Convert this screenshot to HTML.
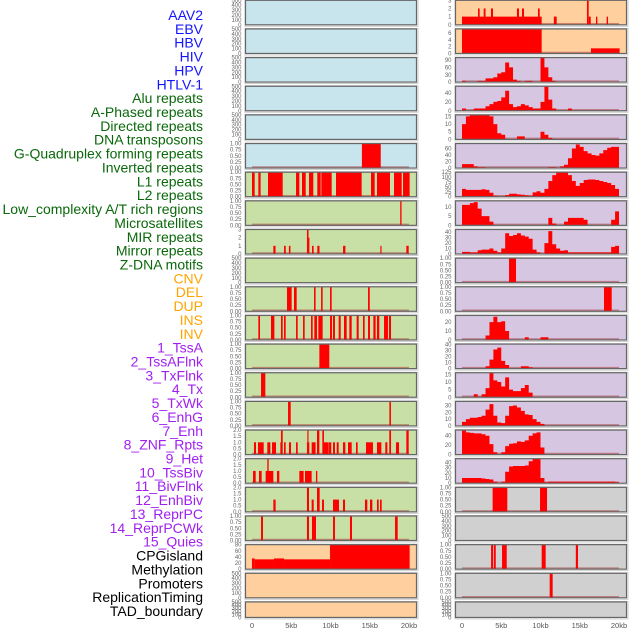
<!DOCTYPE html>
<html><head><meta charset="utf-8"><style>
html,body{margin:0;padding:0;background:#fff;}
svg{display:block;}
.lab{font-family:"Liberation Sans",sans-serif;font-size:14px;}
.tk{font-family:"Liberation Sans",sans-serif;font-size:6px;fill:#666;}
.xt{font-family:"Liberation Sans",sans-serif;font-size:7.5px;fill:#555;}
</style></head><body>
<svg id="chart" width="630" height="630" viewBox="0 0 630 630" xmlns="http://www.w3.org/2000/svg"></svg>
<script>
// ---- labels ----
const trackLabels = ["AAV2","EBV","HBV","HIV","HPV","HTLV-1","Alu repeats","A-Phased repeats","Directed repeats","DNA transposons","G-Quadruplex forming repeats","Inverted repeats","L1 repeats","L2 repeats","Low_complexity A/T rich regions","Microsatellites","MIR repeats","Mirror repeats","Z-DNA motifs","CNV","DEL","DUP","INS","INV","1_TssA","2_TssAFlnk","3_TxFlnk","4_Tx","5_TxWk","6_EnhG","7_Enh","8_ZNF_Rpts","9_Het","10_TssBiv","11_BivFlnk","12_EnhBiv","13_ReprPC","14_ReprPCWk","15_Quies","CPGisland","Methylation","Promoters","ReplicationTiming","TAD_boundary"];
const xTickValues = [0,5,10,15,20];
const xTickLabels = ["0","5kb","10kb","15kb","20kb"];
// ---- tick sets ----
const ticks500 = [0,100,200,300,400,500];
const ticks1 = [0,0.25,0.5,0.75,1];
const ticks3 = [0,1,2,3];
const ticks2 = [0,0.5,1,1.5,2];
// ---- interval data [startKb, endKb, value] ----
const L5 = [[14.0,16.4,1]];
const L6 = [[0,0.34,1],[0.81,1.1,1],[2.04,3.91,1],[5.61,6.03,1],[6.37,6.84,1],[7.26,7.81,1],[8.32,8.75,1],[8.83,10.15,1],[10.7,13.97,1],[15.16,15.63,1],[15.92,17.58,1],[18.09,19.07,1],[19.24,20.08,1]];
const L7 = [[18.88,19.05,1]];
const L8 = [[2.72,3.0,1],[4.08,4.3,1],[4.7,4.9,1],[7.0,7.2,3],[7.2,7.3,2],[7.64,7.85,1],[8.32,8.6,1],[11.6,11.9,1],[16.35,16.5,1],[19.66,19.96,1]];
const L10 = [[4.46,5.05,1],[5.35,5.69,1],[7.9,8.1,1],[8.8,9.0,1],[9.94,10.15,1],[14.78,15.0,1]];
const L11 = [[0.81,1.02,1],[2.42,2.85,1],[3.69,3.91,1],[4.08,4.29,1],[5.61,5.82,1],[6.5,6.71,1],[7.52,7.73,1],[7.94,8.28,1],[8.45,9.0,1],[9.94,10.19,1],[10.32,10.57,1],[11.04,11.3,1],[11.72,12.06,1],[12.4,12.7,1],[13.33,13.59,1],[14.14,14.35,1],[14.78,15.03,1],[15.46,15.75,1],[15.92,16.22,1],[16.82,17.32,1],[17.45,17.71,1]];
const L12 = [[8.58,9.85,1]];
const L13 = [[1.15,1.7,1]];
const L14 = [[4.59,4.93,1],[17.5,17.7,1]];
const L15 = [[0.25,0.51,1],[0.76,1.49,1],[1.95,2.34,1],[2.55,3.06,1],[3.61,3.69,1],[3.69,3.91,2],[4.08,4.29,1],[4.71,4.97,1],[5.61,5.82,1],[7.0,7.3,1],[7.05,7.2,2],[7.6,8.1,1],[8.28,8.58,2],[8.96,9.17,2],[9.13,9.77,1],[9.81,10.1,1],[10.32,10.57,1],[10.79,11.04,1],[11.59,11.89,1],[12.23,12.7,1],[13.25,13.46,1],[14.52,15.41,1],[15.92,16.48,1],[16.98,17.24,1],[17.49,17.71,2],[18.34,18.73,1],[19.66,19.96,2]];
const L16 = [[0.13,0.47,1],[0.89,1.23,1],[1.74,2.72,1],[1.95,2.12,2],[3.18,3.48,1],[6.03,6.58,1],[6.75,7.6,1],[8.15,8.32,1]];
const L17 = [[2.72,3.01,1],[7.0,7.26,2],[7.6,7.86,1],[8.28,8.62,2],[8.92,9.17,1],[10.32,11.08,1],[11.59,11.85,1],[14.39,14.69,1],[15.03,15.33,1],[15.92,16.14,1],[16.31,16.52,1]];
const L18 = [[1.15,1.4,1],[7.0,7.26,1],[7.64,8.15,1],[10.32,10.57,1],[12.48,12.74,1],[18.22,18.56,1]];
const L19 = [[0,0.34,35],[0.34,2.8,32],[2.8,4.08,35],[4.08,9.94,32],[9.94,20.08,80]];
const R0 = [[0,10.15,1],[2.04,2.25,2],[2.76,3.0,2],[3.69,3.95,2],[7.0,7.26,2],[7.64,7.9,2],[9.68,9.9,2],[11.7,12.06,1],[15.92,16.14,3],[16.14,16.4,1],[17.07,17.24,1],[18.43,18.6,1]];
const R1 = [[0,10.15,7.2],[16.43,20.08,1.5]];
const R9 = [[5.99,6.88,1]];
const R10 = [[18.09,19.07,1]];
const R17 = [[3.9,5.77,1],[9.94,10.83,1]];
const R19 = [[3.7,3.95,1],[4.05,4.3,1],[5.1,5.7,1],[10.15,10.66,1],[14.5,14.78,1]];
const R20 = [[11.17,11.55,1]];
// ---- binned coverage (0.5 kb bins, 0-20 kb) ----
const R2 = [5,0,0,0,5,5,15,15,20,35,40,80,60,10,5,0,5,5,0,0,100,60,20,5,0,0,0,0,0,0,0,0,0,0,0,0,0,0,0,0];
const R3 = [5,0,0,5,5,5,10,15,20,22,30,45,15,8,10,15,12,8,5,5,20,55,25,5,0,0,0,5,0,0,0,0,0,0,0,0,0,0,0,0];
const R4 = [10,15,16,16,16,16,16,15,10,4,3,0,0,0,2,2,0,0,0,0,5,3,1,0,0,0,0,0,0,0,0,0,0,0,0,0,0,0,0,0];
const R5 = [12,12,12,5,3,3,0,0,0,0,0,0,0,0,0,0,0,0,0,0,0,0,3,3,0,5,10,30,60,72,65,52,45,40,38,45,55,62,65,65];
const R6 = [40,35,35,35,35,38,35,20,5,0,3,8,15,15,12,10,7,5,22,28,20,40,80,110,125,125,125,110,80,55,70,85,88,88,85,80,75,70,60,40];
const R7 = [11,11,12,12.5,9,5,5,2,0,0,0,0,0,0,0,0,0,0,0,0,0,0,4,1,0,0,2,4,4,4,4,3,0,0,0,0,0,0,3,7.5];
const R8 = [4,4,3,3,7,8,8,10,6,3,10,38,33,35,38,34,32,28,8,3,1,20,42,18,10,6,7,3,3,3,3,3,3,3,3,3,3,3,13,15];
const R11 = [0,0,0,0,0,0,5,20,26,20,21,10,0,0,0,0,3,0,0,0,3,3,0,0,0,0,0,0,0,0,0,0,0,0,0,0,0,0,0,0];
const R12 = [0,0,0,0,0,0,4,15,32,35,13,6,0,0,0,4,4,2,0,0,0,0,0,0,0,0,0,0,0,0,0,0,0,0,0,0,0,0,0,0];
const R13 = [0,0,0,2,0.5,2,6,16,11,10,7,13,5,4,4,6,8,3,0,0,0,0,0,0,0,0,0,0,0,0,0,0,0,0,0,0,0,0,0,0];
const R14 = [6,10,12,12,13,15,24,32,15,5,4,15,29,30,27,22,17,16,10,6,3,0,0,0,0,0,0,0,0,0,0,0,0,0,0,0,0,0,0,0];
const R15 = [52,47,46,45,45,43,40,22,5,0,5,18,23,24,28,27,30,40,45,47,15,0,0,0,0,0,0,0,0,0,0,0,0,0,0,0,0,0,0,0];
const R16 = [10,10,10,10,10,9,8,7,3,0,3,22,32,33,33,33,34,42,48,48,10,2,3,3,3,3,3,3,3,3,3,3,3,3,3,3,3,3,3,2];

const BLUE="#c8e4ec", GREEN="#c8e0a6", PEACH="#ffd09e", LAV="#d6c6e2", GREY="#d0d0d0";
const panels = [
 {c:0,r:0,bg:BLUE,t:ticks500,d:0,m:500},{c:0,r:1,bg:BLUE,t:ticks500,d:0,m:500},{c:0,r:2,bg:BLUE,t:ticks500,d:0,m:500},
 {c:0,r:3,bg:BLUE,t:ticks500,d:0,m:500},{c:0,r:4,bg:BLUE,t:ticks500,d:0,m:500},
 {c:0,r:5,bg:BLUE,t:ticks1,d:2,m:1,bars:L5},
 {c:0,r:6,bg:GREEN,t:ticks1,d:2,m:1,bars:L6},{c:0,r:7,bg:GREEN,t:ticks1,d:2,m:1,bars:L7},
 {c:0,r:8,bg:GREEN,t:ticks3,d:0,m:3,bars:L8},{c:0,r:9,bg:GREEN,t:ticks500,d:0,m:500},
 {c:0,r:10,bg:GREEN,t:ticks1,d:2,m:1,bars:L10},{c:0,r:11,bg:GREEN,t:ticks1,d:2,m:1,bars:L11},
 {c:0,r:12,bg:GREEN,t:ticks1,d:2,m:1,bars:L12},{c:0,r:13,bg:GREEN,t:ticks1,d:2,m:1,bars:L13},
 {c:0,r:14,bg:GREEN,t:ticks1,d:2,m:1,bars:L14},{c:0,r:15,bg:GREEN,t:ticks2,d:1,m:2,bars:L15},
 {c:0,r:16,bg:GREEN,t:ticks2,d:1,m:2,bars:L16},{c:0,r:17,bg:GREEN,t:ticks2,d:1,m:2,bars:L17},
 {c:0,r:18,bg:GREEN,t:ticks1,d:2,m:1,bars:L18},{c:0,r:19,bg:PEACH,t:[0,20,40,60,80],d:0,m:80,bars:L19},
 {c:0,r:20,bg:PEACH,t:ticks500,d:0,m:500},{c:0,r:21,bg:PEACH,t:ticks500,d:0,m:500},
 {c:1,r:0,bg:PEACH,t:ticks3,d:0,m:3,bars:R0},{c:1,r:1,bg:PEACH,t:[0,2,4,6],d:0,m:7.2,bars:R1},
 {c:1,r:2,bg:LAV,t:[0,30,60,90],d:0,m:100,area:R2},{c:1,r:3,bg:LAV,t:[0,20,40],d:0,m:55,area:R3},
 {c:1,r:4,bg:LAV,t:[0,5,10,15],d:0,m:16,area:R4},{c:1,r:5,bg:LAV,t:[0,20,40,60],d:0,m:75,area:R5},
 {c:1,r:6,bg:LAV,t:[0,25,50,75,100,125],d:0,m:125,area:R6},{c:1,r:7,bg:LAV,t:[0,5,10],d:0,m:13.2,area:R7},
 {c:1,r:8,bg:LAV,t:[0,10,20,30,40],d:0,m:45,area:R8},{c:1,r:9,bg:LAV,t:ticks1,d:2,m:1,bars:R9},
 {c:1,r:10,bg:LAV,t:ticks1,d:2,m:1,bars:R10},{c:1,r:11,bg:LAV,t:[0,10,20],d:0,m:27.5,area:R11},
 {c:1,r:12,bg:LAV,t:[0,10,20,30,40],d:0,m:41,area:R12},{c:1,r:13,bg:LAV,t:[0,5,10,15],d:0,m:16,area:R13},
 {c:1,r:14,bg:LAV,t:[0,10,20,30],d:0,m:36,area:R14},{c:1,r:15,bg:LAV,t:[0,20,40],d:0,m:52,area:R15},
 {c:1,r:16,bg:LAV,t:[0,10,20,30,40],d:0,m:47,area:R16},{c:1,r:17,bg:GREY,t:ticks1,d:2,m:1,bars:R17},
 {c:1,r:18,bg:GREY,t:ticks500,d:0,m:500},{c:1,r:19,bg:GREY,t:ticks1,d:2,m:1,bars:R19},
 {c:1,r:20,bg:GREY,t:ticks1,d:2,m:1,bars:R20},{c:1,r:21,bg:GREY,t:ticks500,d:0,m:500}
];
const labelColors = i => i<6?"#1414ff":i<19?"#0a680a":i<24?"#ffa500":i<39?"#a020f0":"#000";

const NS="http://www.w3.org/2000/svg";
const svg=document.getElementById('chart');
function mk(tag,attrs,parent){const e=document.createElementNS(NS,tag);for(const k in attrs)e.setAttribute(k,attrs[k]);(parent||svg).appendChild(e);return e;}
const colLeft=[245.5,455.5], PW=171;
const rowTop=r=>0.3+28.65*r;
const rowH=r=>r===21?15.5:24.5;
const xKb=(c,kb)=>colLeft[c]+6.5+7.85*Math.min(kb,20.08);

// labels
trackLabels.forEach((s,i)=>{
  const t=mk('text',{x:203,y:15+13.86*i+5,'text-anchor':'end',class:'lab',fill:labelColors(i)});
  t.textContent=s;
  
  
});

panels.forEach(p=>{
  const top=rowTop(p.r), h=rowH(p.r), bot=top+h, L=colLeft[p.c];
  const g=mk('g',{});
  
  
  mk('rect',{x:L-0.5,y:top-0.5,width:PW+2,height:h+2,fill:'none',stroke:'#ccc','stroke-width':1},g);
  mk('rect',{x:L,y:top,width:PW,height:h,fill:p.bg},g);
  const ys=v=>bot-(v/p.m)*h;
  if(p.bars){
    mk('line',{x1:xKb(p.c,0),x2:xKb(p.c,20),y1:bot-1,y2:bot-1,stroke:'rgba(170,60,60,0.55)','stroke-width':1.5},g);
    p.bars.forEach(b=>{
      const x1=xKb(p.c,b[0]),x2=xKb(p.c,b[1]),y=ys(Math.min(b[2],p.m));
      const r=mk('rect',{x:x1,y:y,width:Math.max(0.9,x2-x1),height:bot-y,fill:'#ff0000'},g);
      
      
    });
  }
  if(p.area){
    mk('line',{x1:xKb(p.c,0),x2:xKb(p.c,20),y1:bot-1,y2:bot-1,stroke:'rgba(170,60,60,0.55)','stroke-width':1.5},g);
    let d='M'+xKb(p.c,0)+','+bot;
    p.area.forEach((v,i)=>{const y=ys(Math.min(v,p.m));d+=' L'+xKb(p.c,i*0.5)+','+y+' L'+xKb(p.c,(i+1)*0.5)+','+y;});
    d+=' L'+xKb(p.c,20)+','+bot+' Z';
    const a=mk('path',{d:d,fill:'#ff0000'},g);
    
    
  }
  mk('rect',{x:L,y:top,width:PW,height:h,fill:'none',stroke:'#666','stroke-width':1.2},g);
  p.t.forEach(v=>{
    const t=mk('text',{x:L-4,y:ys(v)+2,'text-anchor':'end',class:'tk'},g);
    t.textContent=v.toFixed(p.d);
    
    
  });
});

// x axis
[0,1].forEach(c=>{
  xTickValues.forEach((v,i)=>{
    const t=mk('text',{x:xKb(c,v),y:628,'text-anchor':'middle',class:'xt'});
    t.textContent=xTickLabels[i];
    
    
  });
});
</script>
</body></html>
